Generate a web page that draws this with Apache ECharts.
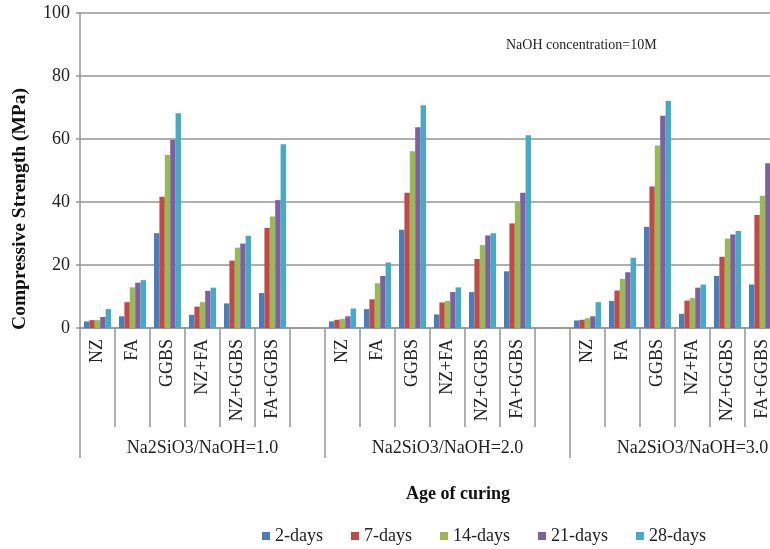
<!DOCTYPE html>
<html>
<head>
<meta charset="utf-8">
<script src="https://cdn.jsdelivr.net/npm/echarts@6/dist/echarts.min.js"></script>
<style>html,body{margin:0;padding:0;background:#fff}#c{width:770px;height:549px}</style>
</head>
<body>
<div id="c"></div>
<script>
const mixes = ['NZ', 'FA', 'GGBS', 'NZ+FA', 'NZ+GGBS', 'FA+GGBS'];
const groups = ['Na2SiO3/NaOH=1.0', 'Na2SiO3/NaOH=2.0', 'Na2SiO3/NaOH=3.0'];
const ages = ['2-days', '7-days', '14-days', '21-days', '28-days'];
const colors = ['#4A7EBB', '#BE4B48', '#98B954', '#7D60A0', '#46AAC5'];

// values per ratio group (1.0, 2.0, 3.0), in order of mixes
const days2  = [[2.1, 3.7, 30.1, 4.2, 7.8, 11.1], [2.1, 6.0, 31.2, 4.3, 11.4, 18.0], [2.4, 8.6, 32.1, 4.5, 16.5, 13.8]];
const days7  = [[2.5, 8.2, 41.7, 6.8, 21.4, 31.8], [2.6, 9.1, 42.9, 8.1, 21.9, 33.2], [2.6, 11.9, 44.9, 8.7, 22.6, 35.9]];
const days14 = [[2.5, 12.9, 54.9, 8.2, 25.5, 35.4], [2.9, 14.2, 56.1, 8.6, 26.3, 40.0], [3.1, 15.6, 57.9, 9.5, 28.4, 42.0]];
const days21 = [[3.5, 14.4, 59.8, 11.8, 26.8, 40.6], [3.7, 16.5, 63.7, 11.4, 29.4, 42.9], [3.7, 17.7, 67.4, 12.8, 29.7, 52.3]];
const days28 = [[6.0, 15.2, 68.2, 12.8, 29.3, 58.3], [6.2, 20.8, 70.7, 12.9, 30.1, 61.2], [8.2, 22.3, 72.1, 13.8, 30.8, 74.0]];
const yTicks = { min: 0, max: 100, interval: 20 };

const allAges = [days2, days7, days14, days21, days28];
const cats = [];
groups.forEach(() => { mixes.forEach(m => cats.push(m)); cats.push(''); });
function flat(arr) {
  const out = [];
  arr.forEach(g => { g.forEach(v => out.push(v)); out.push(null); });
  return out;
}

const serif = '"Liberation Serif", "Times New Roman", serif';
const grey = '#959595';
const chart = echarts.init(document.getElementById('c'));
chart.setOption({
  animation: false,
  color: colors,
  grid: { left: 80, right: -45, top: 13, bottom: 221, containLabel: false, outerBoundsMode: 'none' },
  legend: {
    data: ages, left: 257, top: 522, icon: 'rect', itemWidth: 8, itemHeight: 8, itemGap: 28,
    textStyle: { fontFamily: serif, fontSize: 18, color: '#222' }
  },
  xAxis: [{
    type: 'category', data: cats, position: 'bottom',
    axisLine: { show: true, lineStyle: { color: grey, width: 1.5 } },
    axisTick: { show: true, interval: 0, length: 99, lineStyle: { color: grey, width: 1.5 } },
    axisLabel: { interval: 0, rotate: 90, margin: 11, fontFamily: serif, fontSize: 18, color: '#222' },
    splitLine: { show: false }
  }, {
    type: 'category', data: groups, position: 'bottom', gridIndex: 0,
    axisLine: { show: false },
    axisTick: { show: true, interval: 0, length: 130, lineStyle: { color: grey, width: 1.5 } },
    axisLabel: { interval: 0, margin: 111, fontFamily: serif, fontSize: 18, color: '#222' },
    splitLine: { show: false }
  }],
  yAxis: {
    type: 'value', min: yTicks.min, max: yTicks.max, interval: yTicks.interval,
    axisLine: { show: true, lineStyle: { color: grey, width: 1.5 } },
    axisTick: { show: true, length: 4, lineStyle: { color: grey, width: 1.5 } },
    axisLabel: { margin: 10, fontFamily: serif, fontSize: 18, color: '#222' },
    splitLine: { show: true, lineStyle: { color: grey, width: 1.5 } }
  },
  graphic: [
    { type: 'text', x: 20, y: 209, rotation: Math.PI / 2,
      style: { text: 'Compressive Strength (MPa)', fontFamily: serif, fontWeight: 'bold', fontSize: 19.5, fill: '#111', textAlign: 'center', textVerticalAlign: 'middle' } },
    { type: 'text', x: 458, y: 494,
      style: { text: 'Age of curing', fontFamily: serif, fontWeight: 'bold', fontSize: 18, fill: '#111', textAlign: 'center', textVerticalAlign: 'middle' } },
    { type: 'text', x: 506, y: 45,
      style: { text: 'NaOH concentration=10M', fontFamily: serif, fontSize: 14, fill: '#222', textAlign: 'left', textVerticalAlign: 'middle' } }
  ],
  series: ages.map((a, i) => ({
    name: a, type: 'bar', xAxisIndex: 0, data: flat(allAges[i]),
    barGap: '0%', barCategoryGap: '23%'
  }))
});
</script>
</body>
</html>
